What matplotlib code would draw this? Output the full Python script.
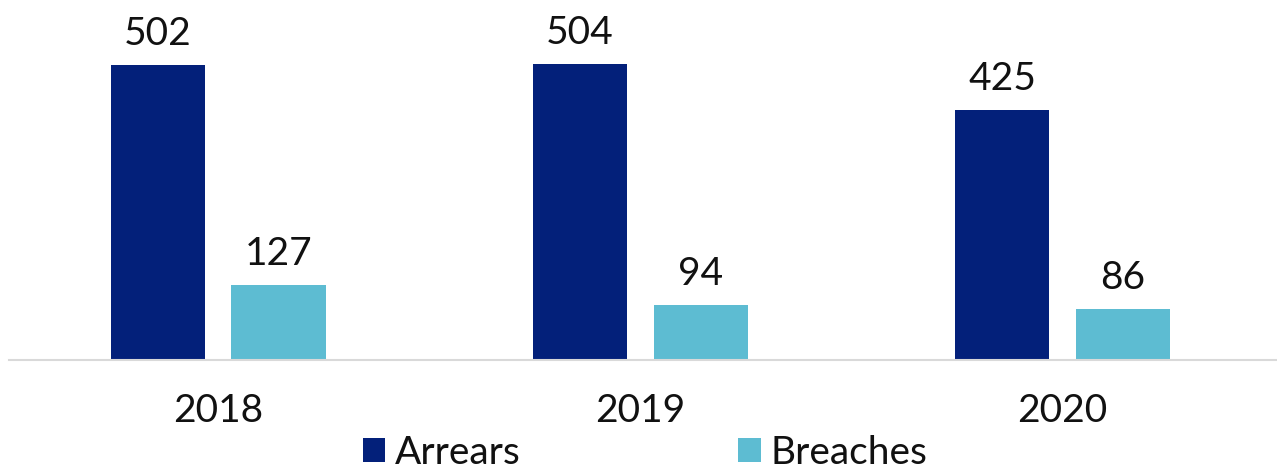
import numpy as np
import matplotlib.pyplot as plt

plt.rcParams['font.family'] = ['Lato', 'DejaVu Sans']

years = ['2018', '2019', '2020']
arrears = [502, 504, 425]
breaches = [127, 94, 86]

navy = '#03207A'
teal = '#5DBCD2'

fig = plt.figure(figsize=(12.77, 4.69), dpi=100)
ax = fig.add_axes([9 / 1277, 1 - 360 / 469, 1267 / 1277, 360 / 469])

x = np.arange(len(years))
w = 0.223
off = 0.143
b1 = ax.bar(x - off, arrears, w, color=navy, label='Arrears')
b2 = ax.bar(x + off, breaches, w, color=teal, label='Breaches')

for bars in (b1, b2):
    for b in bars:
        ax.text(b.get_x() + b.get_width() / 2, b.get_height() + 22,
                str(int(b.get_height())), ha='center', va='bottom',
                fontsize=28, color='#111111')

ax.set_xlim(-0.495, 2.505)
ax.set_ylim(0, 612)
ax.set_yticks([])
ax.set_xticks(x)
ax.set_xticklabels(years, fontsize=28, color='#111111')
ax.tick_params(axis='x', length=0, pad=24)
for s in ['top', 'right', 'left']:
    ax.spines[s].set_visible(False)
ax.spines['bottom'].set_color('#D9D9D9')
ax.spines['bottom'].set_linewidth(1.5)

leg = fig.legend(loc='center', bbox_to_anchor=(645 / 1277, 1 - 453 / 469),
                 ncol=2, frameon=False, fontsize=28, handlelength=0.58,
                 handleheight=0.58, handletextpad=0.25, columnspacing=5.6,
                 borderpad=0)
for t in leg.get_texts():
    t.set_color('#111111')

fig.savefig('out.png', dpi=100)
